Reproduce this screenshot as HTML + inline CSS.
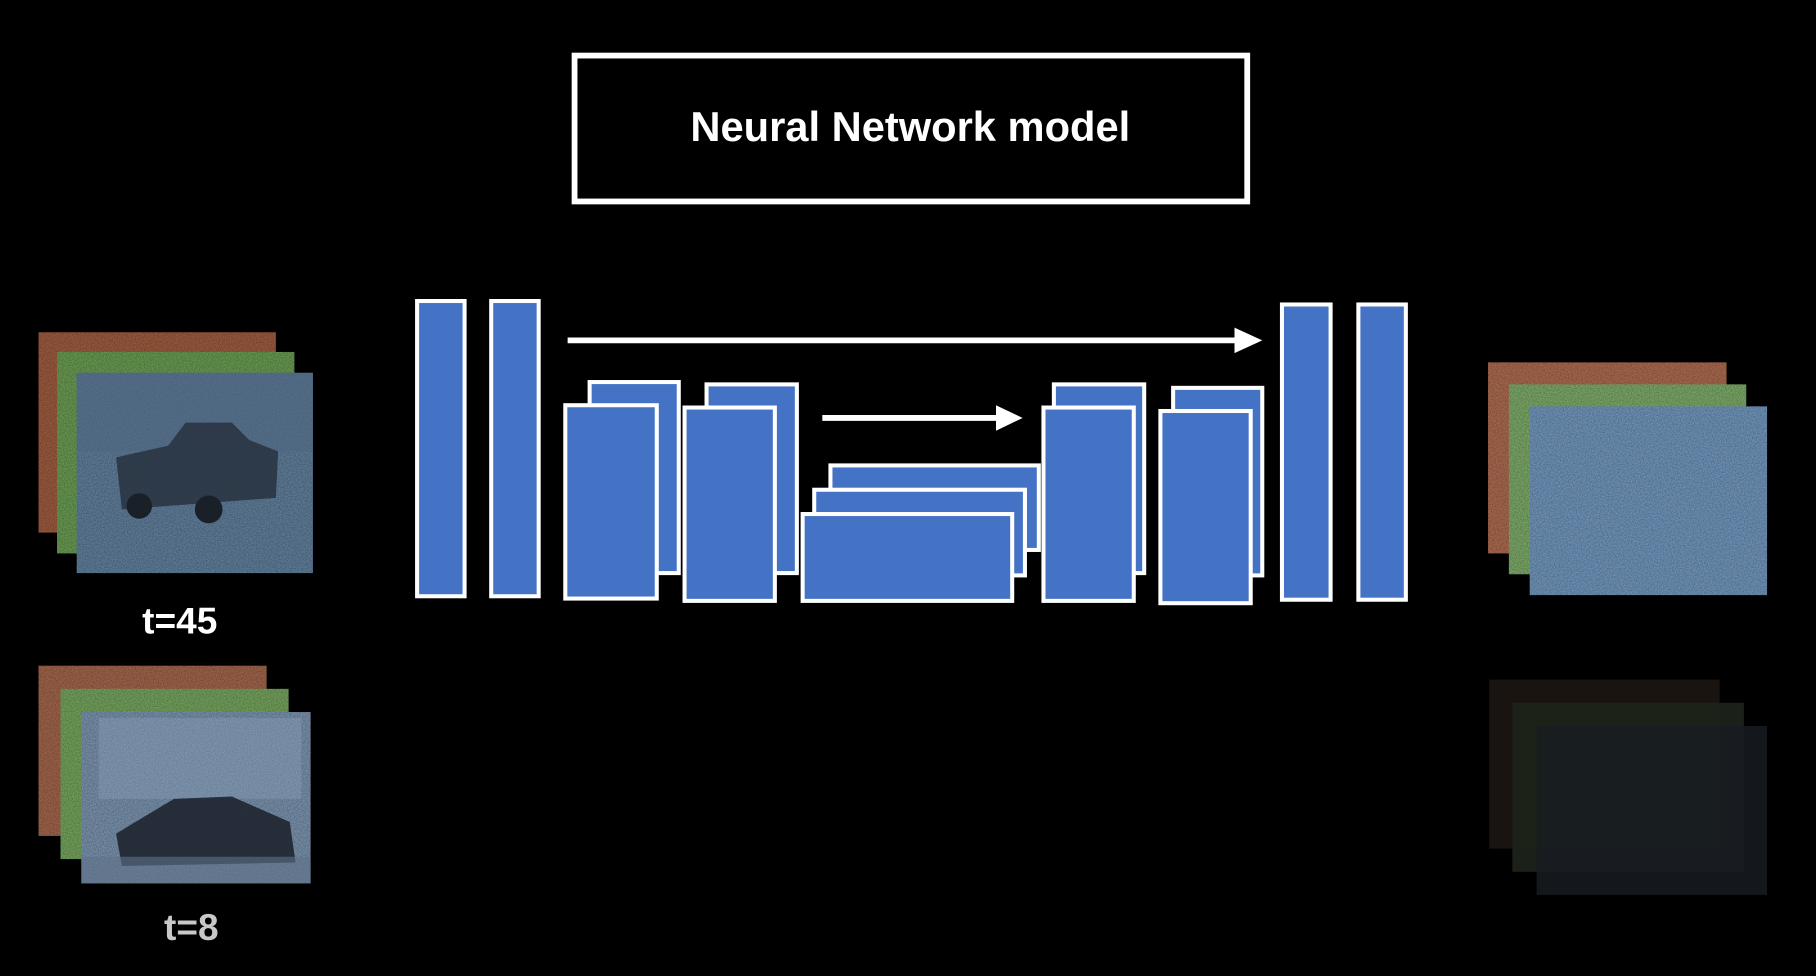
<!DOCTYPE html>
<html><head><meta charset="utf-8">
<style>
html,body{margin:0;padding:0;background:#000;width:1816px;height:976px;overflow:hidden}
svg{display:block}
</style></head>
<body>
<svg width="1816" height="976" viewBox="0 0 1568 843" xmlns="http://www.w3.org/2000/svg">
<defs>
<filter id="n" x="0" y="0" width="100%" height="100%">
<feTurbulence type="fractalNoise" baseFrequency="0.9" numOctaves="1" seed="3"/>
<feColorMatrix type="matrix" values="0 0 0 0 0  0 0 0 0 0  0 0 0 0 0  0 0 0 0.9 -0.2"/>
<feComposite in2="SourceGraphic" operator="in"/>
<feBlend in="SourceGraphic" mode="multiply"/>
</filter>
</defs>
<rect width="1568" height="843" fill="#000"/>
<rect x="496" y="48" width="581" height="126" fill="none" stroke="#fff" stroke-width="5"/>
<text x="786" y="122" text-anchor="middle" fill="#fff" font-family="Liberation Sans, sans-serif" font-weight="bold" font-size="36">Neural Network model</text>

<g fill="#4472c4" stroke="#fff" stroke-width="3.5">
<rect x="360" y="260" width="41" height="255"/>
<rect x="424" y="260" width="41" height="255"/>
<rect x="509" y="330" width="77" height="165"/>
<rect x="488" y="350" width="79" height="167"/>
<rect x="610" y="332" width="78" height="163"/>
<rect x="591" y="352" width="78" height="167"/>
<rect x="717" y="402" width="180" height="73"/>
<rect x="703" y="423" width="182" height="74"/>
<rect x="693" y="444" width="181" height="75"/>
<rect x="910" y="332" width="78" height="163"/>
<rect x="901" y="352" width="78" height="167"/>
<rect x="1013" y="335" width="77" height="162"/>
<rect x="1002" y="355" width="78" height="166"/>
<rect x="1107" y="263" width="42" height="255"/>
<rect x="1173" y="263" width="41" height="255"/>
</g>
<g stroke="#fff" stroke-width="5" fill="#fff">
<line x1="490" y1="294" x2="1070" y2="294"/>
<polygon points="1066,283 1090,294 1066,305" stroke="none"/>
<line x1="710" y1="361" x2="864" y2="361"/>
<polygon points="860,350 883,361 860,372" stroke="none"/>
</g>

<rect x="33" y="287" width="205" height="173" fill="#9a5a3e" filter="url(#n)"/>
<rect x="49" y="304" width="205" height="174" fill="#679851" filter="url(#n)"/>
<rect x="66" y="322" width="204" height="173" fill="#5f7c98" filter="url(#n)"/>
<path d="M66 322 H270 V390 H66Z" fill="#4e6680" opacity="0.6"/>
<path d="M100 395 L145 385 L160 365 L200 365 L215 380 L240 390 L238 430 L105 440 Z" fill="#2a3542" opacity="0.9"/>
<circle cx="120" cy="437" r="11" fill="#1a2028"/><circle cx="180" cy="440" r="12" fill="#1a2028"/>
<text x="155" y="547" text-anchor="middle" fill="#fff" font-family="Liberation Sans, sans-serif" font-weight="bold" font-size="32">t=45</text>

<rect x="33" y="575" width="197" height="147" fill="#9e634a" filter="url(#n)"/>
<rect x="52" y="595" width="197" height="147" fill="#72a05c" filter="url(#n)"/>
<rect x="70" y="615" width="198" height="148" fill="#7890aa" filter="url(#n)"/>
<path d="M85 620 H260 V690 H85Z" fill="#8a9fb8" opacity="0.4"/>
<path d="M100 720 L150 690 L200 688 L250 710 L255 745 L105 748 Z" fill="#1e2530" opacity="0.9"/>
<path d="M70 740 H268 V763 H70Z" fill="#5f7288" opacity="0.6"/>
<text x="165" y="812" text-anchor="middle" fill="#c8c8c8" font-family="Liberation Sans, sans-serif" font-weight="bold" font-size="32">t=8</text>

<rect x="1285" y="313" width="206" height="165" fill="#a8684e" filter="url(#n)"/>
<rect x="1303" y="332" width="205" height="164" fill="#7aa666" filter="url(#n)"/>
<rect x="1321" y="351" width="205" height="163" fill="#6f93b8" filter="url(#n)"/>

<rect x="1286" y="587" width="199" height="146" fill="#1a1410"/>
<rect x="1306" y="607" width="200" height="146" fill="#1e231b" opacity="0.9"/>
<rect x="1327" y="627" width="199" height="146" fill="#171c22" opacity="0.85"/>
</svg>
</body></html>
